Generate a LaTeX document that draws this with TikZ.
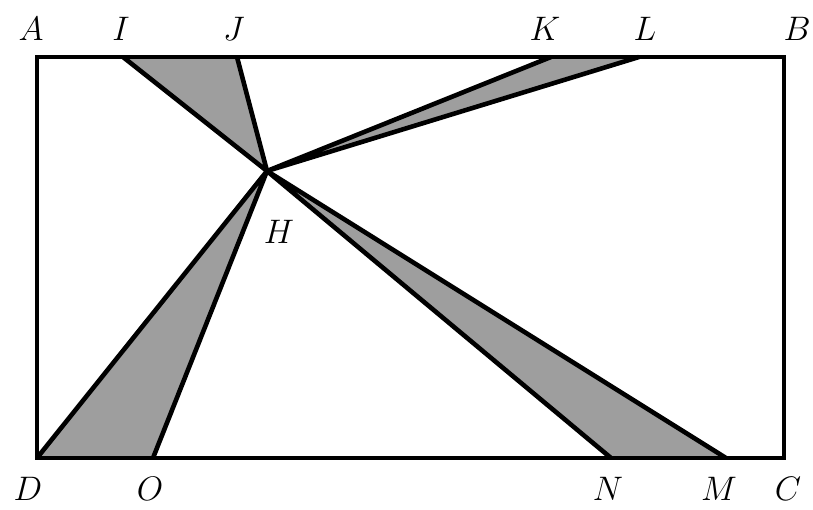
\RequirePackage{fix-cm}
\documentclass[tikz,border=0pt]{standalone}
\begin{document}
\begin{tikzpicture}[x=1pt,y=-1pt,
  edge/.style={line width=4.6pt,line join=round},
  shade/.style={fill=black!38},
  lbl/.style={inner sep=0pt,font=\fontsize{34}{40}\selectfont}]
\useasboundingbox (0,0) rectangle (813,510);
\coordinate (A) at (37,57);
\coordinate (B) at (784,57);
\coordinate (C) at (784,458);
\coordinate (D) at (37,458);
\coordinate (I) at (123,57);
\coordinate (J) at (237,57);
\coordinate (K) at (551,57);
\coordinate (L) at (639,57);
\coordinate (H) at (267,171);
\coordinate (O) at (153,458);
\coordinate (N) at (611,458);
\coordinate (M) at (726,458);
\fill[shade] (I) -- (J) -- (H) -- cycle;
\fill[shade] (K) -- (L) -- (H) -- cycle;
\fill[shade] (D) -- (O) -- (H) -- cycle;
\fill[shade] (N) -- (M) -- (H) -- cycle;
\draw[edge,line join=miter] (A) -- (B) -- (C) -- (D) -- cycle;
\draw[edge] (I) -- (H) -- (J);
\draw[edge] (K) -- (H) -- (L);
\draw[edge] (D) -- (H) -- (O);
\draw[edge] (N) -- (H) -- (M);
\node[lbl] (lA) at (31,29) {$A$};
\node[lbl] (lI) at (121,29) {$I$};
\node[lbl] (lJ) at (234,29) {$J$};
\node[lbl] (lK) at (545,29) {$K$};
\node[lbl] (lL) at (645,29) {$L$};
\node[lbl] (lB) at (797,29) {$B$};
\node[lbl] (lH) at (279,232) {$H$};
\node[lbl] (lD) at (28,489) {$D$};
\node[lbl] (lO) at (150,489) {$O$};
\node[lbl] (lN) at (608,489) {$N$};
\node[lbl] (lM) at (719,489) {$M$};
\node[lbl] (lC) at (788,489) {$C$};
\end{tikzpicture}
\end{document}
